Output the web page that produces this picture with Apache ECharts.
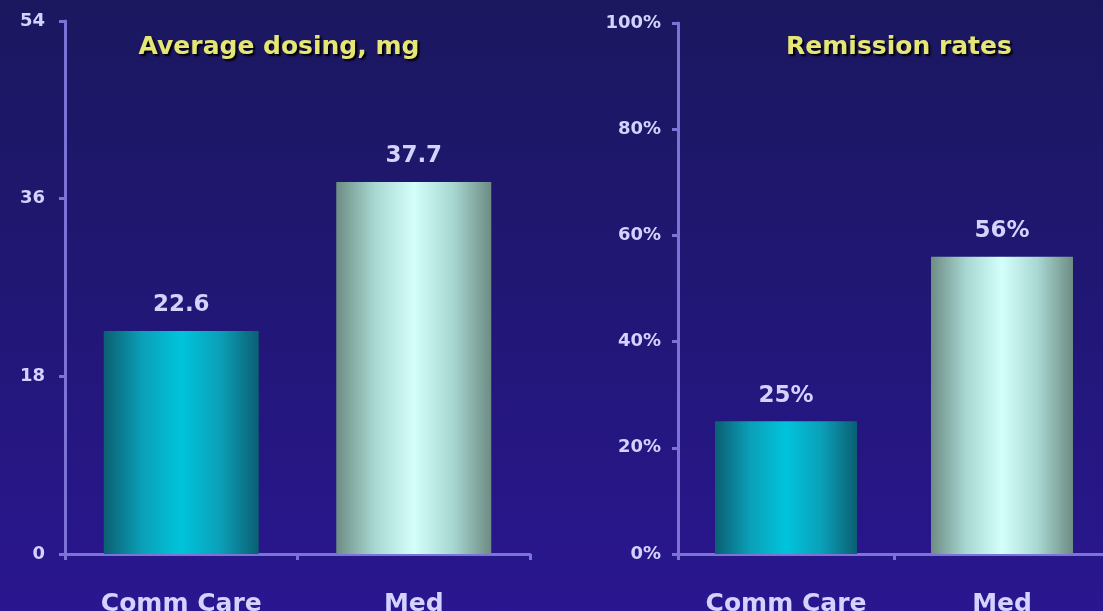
<!DOCTYPE html>
<html>
<head>
<meta charset="utf-8">
<script src="https://cdn.jsdelivr.net/npm/echarts@6/dist/echarts.min.js"></script>
<style>
  html, body { margin: 0; padding: 0; }
  body { width: 1103px; height: 611px; overflow: hidden;
         background: linear-gradient(180deg, #1b175f 0%, #201773 45%, #2a1690 100%); }
  #chart { width: 1103px; height: 611px; }
</style>
</head>
<body>
<div id="chart"></div>
<script>
// Two panels: average dose and remission rate, by care model
const categories = ['Comm Care', 'Med'];
const dosingMg = [22.6, 37.7];
const remissionPct = [25, 56];
const dosingTicks = { min: 0, max: 54, interval: 18 };
const remissionTicks = { min: 0, max: 100, interval: 20 };

const axisColor = '#7d72d6';
const labelColor = '#d4d2ff';
const fontFamily = 'DejaVu Sans, Verdana, sans-serif';

function barFill(dark, mid, bright) {
  return new echarts.graphic.LinearGradient(0, 0, 1, 0, [
    { offset: 0, color: dark },
    { offset: 0.25, color: mid },
    { offset: 0.5, color: bright },
    { offset: 0.75, color: mid },
    { offset: 1, color: dark }
  ]);
}
const commFill = barFill('#0b5f72', '#0aa0b8', '#00c4dc');
const medFill = barFill('#6d8c84', '#a8d8d2', '#d4fffa');

function xAxisFor(gridIndex) {
  return {
    type: 'category', gridIndex, data: categories,
    axisLine: { lineStyle: { color: axisColor, width: 3 } },
    axisTick: { show: true, length: 6, lineStyle: { color: axisColor, width: 3 } },
    axisLabel: { color: labelColor, fontFamily, fontWeight: 'bold', fontSize: 25, margin: 38 }
  };
}
function yAxisFor(gridIndex, ticks, fmt, margin) {
  return {
    type: 'value', gridIndex, min: ticks.min, max: ticks.max, interval: ticks.interval,
    splitLine: { show: false },
    axisLine: { show: true, lineStyle: { color: axisColor, width: 3 } },
    axisTick: { show: true, length: 6, lineStyle: { color: axisColor, width: 3 } },
    axisLabel: { color: labelColor, fontFamily, fontWeight: 'bold', fontSize: 18,
                 margin, formatter: fmt }
  };
}
const valueLabel = {
  show: true, position: 'top', distance: 14,
  color: labelColor, fontFamily, fontWeight: 'bold', fontSize: 23
};
const titleStyle = {
  color: '#e6e676', fontFamily, fontWeight: 'bold', fontSize: 25,
  textShadowColor: '#000000', textShadowBlur: 2, textShadowOffsetX: 2, textShadowOffsetY: 2
};

const chart = echarts.init(document.getElementById('chart'), null, { renderer: 'canvas' });
chart.setOption({
  backgroundColor: 'transparent',
  animation: false,
  title: [
    { text: 'Average dosing, mg', left: 274, top: 30, textAlign: 'center', textStyle: titleStyle },
    { text: 'Remission rates', left: 894, top: 30, textAlign: 'center', textStyle: titleStyle }
  ],
  grid: [
    { left: 65, top: 21, width: 465, height: 533, outerBoundsMode: 'none', containLabel: false },
    { left: 678, top: 23, width: 432, height: 531, outerBoundsMode: 'none', containLabel: false }
  ],
  xAxis: [xAxisFor(0), xAxisFor(1)],
  yAxis: [yAxisFor(0, dosingTicks, '{value}', 20), yAxisFor(1, remissionTicks, '{value}%', 17)],
  series: [
    {
      type: 'bar', xAxisIndex: 0, yAxisIndex: 0, barWidth: 155,
      data: dosingMg.map((v, i) => ({ value: v, itemStyle: { color: i === 0 ? commFill : medFill } })),
      label: valueLabel
    },
    {
      type: 'bar', xAxisIndex: 1, yAxisIndex: 1, barWidth: 142,
      data: remissionPct.map((v, i) => ({ value: v, itemStyle: { color: i === 0 ? commFill : medFill } })),
      label: Object.assign({}, valueLabel, { formatter: '{c}%' })
    }
  ]
});
</script>
</body>
</html>
